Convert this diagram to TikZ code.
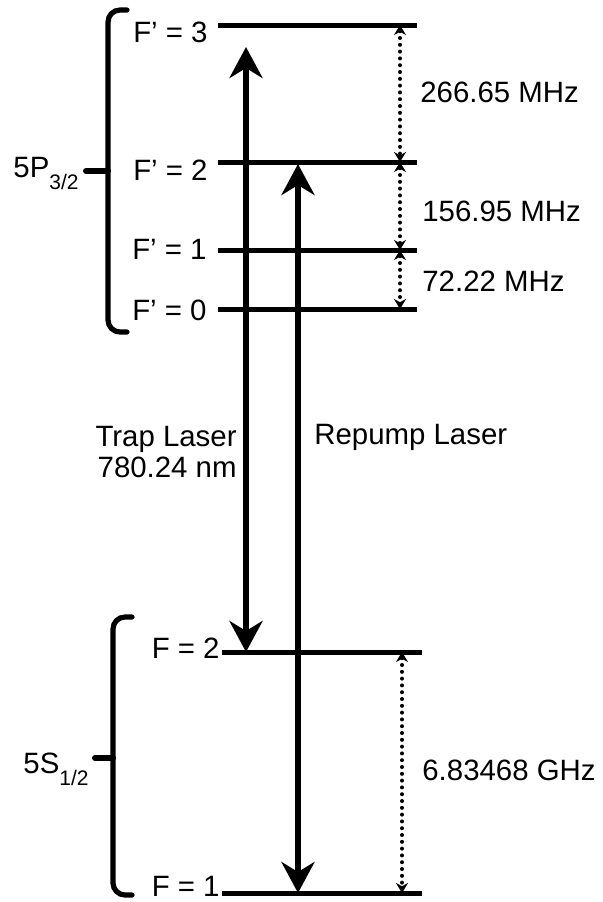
\documentclass[tikz,border=0pt]{standalone}
\usepackage{fontspec}
\setmainfont{Liberation Sans}
\usepackage{tikz}
\usetikzlibrary{arrows.meta}

\newcommand{\lsub}[1]{\raisebox{-6pt}{\fontsize{10.5}{10.5}\selectfont #1}}

\tikzset{
  lbl/.style={inner sep=0pt},
  level/.style={line width=2.5pt,line cap=butt},
  bracket/.style={line width=2.6pt,rounded corners=6pt},
  laser/.style={line width=3.4pt,line cap=butt,
    {Stealth[length=15.5pt,width=16.5pt,inset=5pt]}-{Stealth[length=15.5pt,width=16.5pt,inset=5pt]}},
  split/.style={line width=2pt,line cap=round,dash pattern=on 0pt off 3.4pt,
    {Stealth[length=5pt,width=6pt]}-{Stealth[length=5pt,width=6pt]}},
}

\begin{document}
\begin{tikzpicture}[x=0.5pt,y=-0.5pt,font=\fontsize{14.7}{15.5}\selectfont,line cap=round]
\useasboundingbox (0,0) rectangle (603,902);
\coordinate (p3l) at (218,25);
\coordinate (p3r) at (417,25);
\coordinate (p2l) at (218,162);
\coordinate (p2r) at (417,162);
\coordinate (p1l) at (218,250);
\coordinate (p1r) at (417,250);
\coordinate (p0l) at (218,309);
\coordinate (p0r) at (417,309);
\coordinate (s2l) at (222,652);
\coordinate (s2r) at (422,652);
\coordinate (s1l) at (222,893);
\coordinate (s1r) at (422,893);
\draw[level] (p3l) -- (p3r);
\draw[level] (p2l) -- (p2r);
\draw[level] (p1l) -- (p1r);
\draw[level] (p0l) -- (p0r);
\draw[level] (s2l) -- (s2r);
\draw[level] (s1l) -- (s1r);
\node[lbl,anchor=east] (p3) at (208,32) {F’ = 3};
\node[lbl,anchor=east] (p2) at (208,170) {F’ = 2};
\node[lbl,anchor=east] (p1) at (207,249) {F’ = 1};
\node[lbl,anchor=east] (p0) at (207,310) {F’ = 0};
\node[lbl,anchor=east] (s2) at (220,648) {F = 2};
\node[lbl,anchor=east] (s1) at (220,886) {F = 1};
\draw[bracket] (127,10) -- (108,10) -- (108,332) -- (127,332);
\draw[line width=3pt] (108,171) -- (86,171);
\node[lbl,anchor=base east] (fivep) at (79,177) {5P\lsub{3/2}};
\draw[bracket] (132,617) -- (113,617) -- (113,895) -- (132,895);
\draw[line width=3pt] (113,758) -- (95,758);
\node[lbl,anchor=base east] (fives) at (89,773) {5S\lsub{1/2}};
\coordinate (trapup) at (246,47);
\coordinate (trapdn) at (246,652);
\coordinate (repup) at (298,164);
\coordinate (repdn) at (298,893);
\draw[laser] (trapdn) -- (trapup);
\draw[laser] (repdn) -- (repup);
\node[lbl,anchor=east,align=right] (trap) at (237,452) {Trap Laser\\780.24 nm};
\node[lbl,anchor=west] (repump) at (314,437) {Repump Laser};
\coordinate (g3) at (400,25);
\coordinate (g2) at (400,162);
\coordinate (g1) at (400,250);
\coordinate (g0) at (400,309);
\coordinate (h2) at (402,652);
\coordinate (h1) at (402,893);
\draw[split] (g3) -- (g2);
\draw[split] (g2) -- (g1);
\draw[split] (g1) -- (g0);
\draw[split] (h2) -- (h1);
\node[lbl,anchor=west] (d32) at (420,92) {266.65 MHz};
\node[lbl,anchor=west] (d21) at (422,211) {156.95 MHz};
\node[lbl,anchor=west] (d10) at (422,281) {72.22 MHz};
\node[lbl,anchor=west] (dhf) at (422,770) {6.83468 GHz};
\end{tikzpicture}
\end{document}
